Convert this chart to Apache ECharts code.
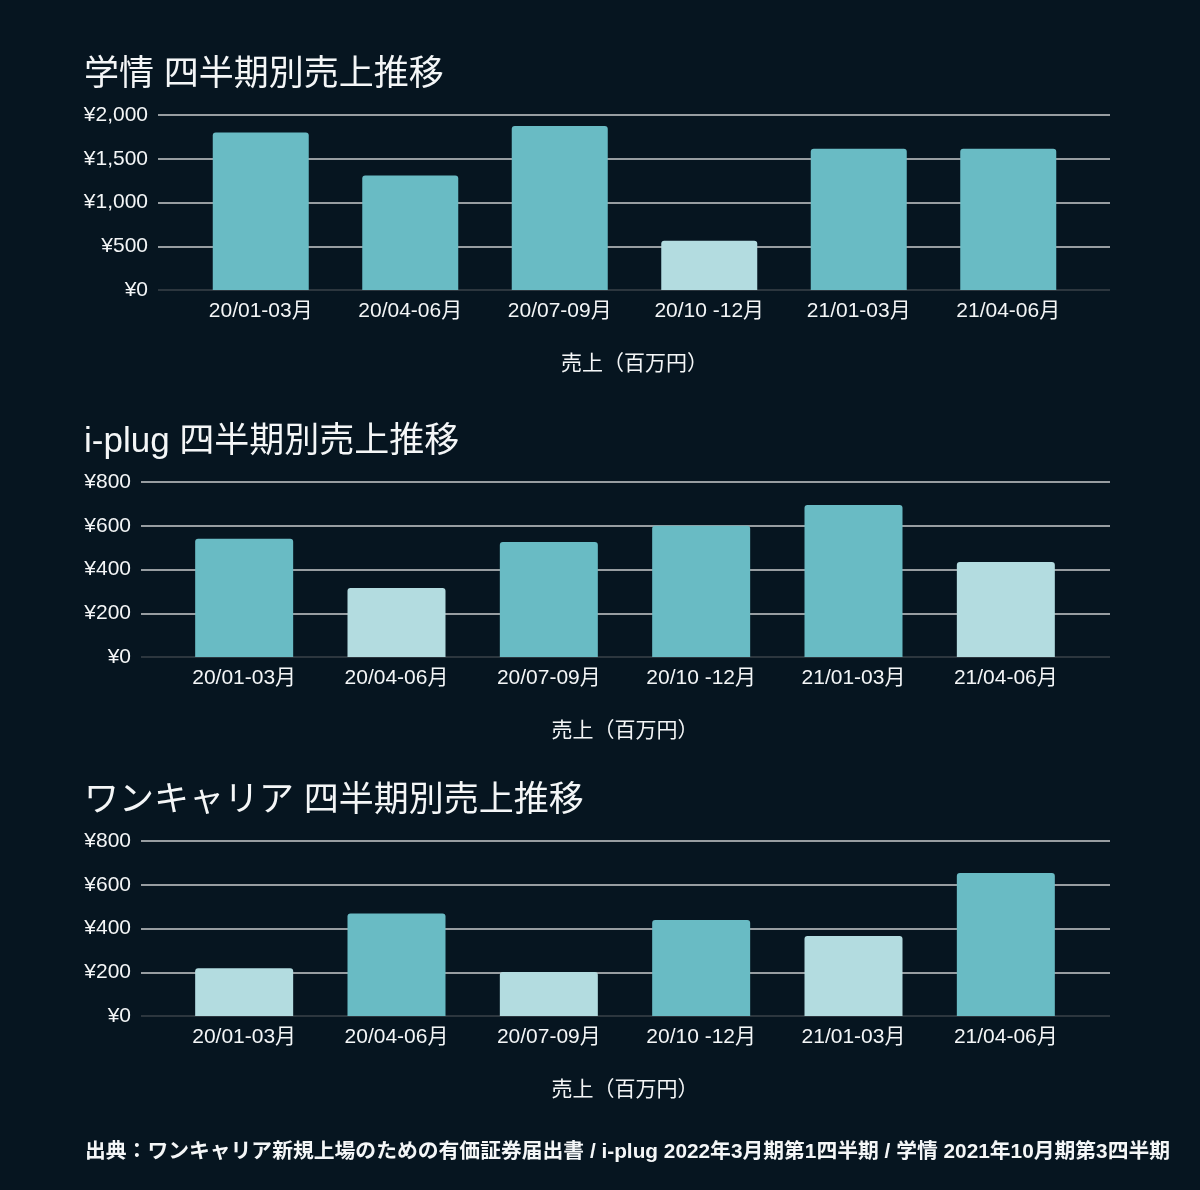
<!DOCTYPE html>
<html>
<head>
<meta charset="utf-8">
<script src="https://cdn.jsdelivr.net/npm/echarts@6/dist/echarts.min.js"></script>
<style>
html,body{margin:0;padding:0;background:#061520;}
#c{width:1200px;height:1190px;}
</style>
</head>
<body>
<div id="c"></div>
<script>
// ---- data ----
const categories1 = ['20/01-03月', '20/04-06月', '20/07-09月', '20/10 -12月', '21/01-03月', '21/04-06月'];
const categories2 = ['20/01-03月', '20/04-06月', '20/07-09月', '20/10 -12月', '21/01-03月', '21/04-06月'];
const gakujoSales = [1800, 1310, 1875, 563, 1615, 1615];
const iplugSales = [541, 315, 526, 600, 695, 434];
const onecareerSales = [218, 469, 201, 439, 366, 654];
const gakujoLight = [3];
const iplugLight = [1, 5];
const onecareerLight = [0, 2, 4];
const titles = ['学情 四半期別売上推移', 'i-plug 四半期別売上推移', 'ワンキャリア 四半期別売上推移'];
const axisName = '売上（百万円）';
const footer = '出典：ワンキャリア新規上場のための有価証券届出書 / i-plug 2022年3月期第1四半期 / 学情 2021年10月期第3四半期';

// ---- styles ----
const FONT = "'Liberation Sans', 'Noto Sans CJK JP', sans-serif";
const TXT = '#f4f6f7';
const DARK = '#69bbc4';
const LIGHT = '#b3dce0';
const GRID = '#c9cbcc';
const BASE = '#3a4248';

const chart = echarts.init(document.getElementById('c'));

const panels = [
  { cats: categories1, vals: gakujoSales, light: gakujoLight, max: 2000, interval: 500,
    top: 115, lineLeft: 158, barLeft: 186, barRight: 1083, barW: 96, titleTop: 53 },
  { cats: categories2, vals: iplugSales, light: iplugLight, max: 800, interval: 200,
    top: 482, lineLeft: 141, barLeft: 168, barRight: 1082, barW: 98, titleTop: 420 },
  { cats: categories2, vals: onecareerSales, light: onecareerLight, max: 800, interval: 200,
    top: 841, lineLeft: 141, barLeft: 168, barRight: 1082, barW: 98, titleTop: 779 }
];

const grid = [], xAxis = [], yAxis = [], series = [], title = [];
panels.forEach((p, i) => {
  const h = 175;
  grid.push({ left: p.lineLeft, width: 1110 - p.lineLeft, top: p.top, height: h });
  grid.push({ left: p.barLeft, width: p.barRight - p.barLeft, top: p.top, height: h });
  const gA = i * 2, gB = i * 2 + 1;
  const nTicks = p.max / p.interval + 1;
  const splitColors = [BASE];
  for (let k = 1; k < nTicks; k++) splitColors.push(GRID);
  xAxis.push({ type: 'category', gridIndex: gA, data: p.cats, show: false });
  xAxis.push({
    type: 'category', gridIndex: gB, data: p.cats,
    axisLine: { show: false }, axisTick: { show: false },
    axisLabel: { color: TXT, fontSize: 21, fontFamily: FONT, margin: 11, interval: 0 },
    name: axisName, nameLocation: 'middle', nameGap: 64,
    nameTextStyle: { color: TXT, fontSize: 21, fontFamily: FONT }
  });
  yAxis.push({
    type: 'value', gridIndex: gA, min: 0, max: p.max, interval: p.interval,
    axisLine: { show: false }, axisTick: { show: false },
    axisLabel: {
      color: TXT, fontSize: 21, fontFamily: FONT, margin: 10,
      formatter: v => '¥' + v.toLocaleString('en-US')
    },
    splitLine: { show: true, lineStyle: { color: splitColors, width: 1.5 } }
  });
  yAxis.push({ type: 'value', gridIndex: gB, min: 0, max: p.max, interval: p.interval, show: false, splitLine: { show: false } });
  series.push({
    type: 'bar', xAxisIndex: gB, yAxisIndex: gB, barWidth: p.barW,
    data: p.vals.map((v, k) => ({
      value: v,
      itemStyle: { color: p.light.includes(k) ? LIGHT : DARK, borderRadius: [3, 3, 0, 0] }
    })),
    z: 3
  });
  title.push({
    text: titles[i], left: 79, top: p.titleTop,
    textStyle: { color: TXT, fontSize: 35, fontWeight: 'normal', fontFamily: FONT }
  });
});
title.push({
  text: footer, left: 80, top: 1137,
  textStyle: { color: TXT, fontSize: 20.8, fontWeight: 'bold', fontFamily: FONT }
});

chart.setOption({
  backgroundColor: '#061520',
  animation: false,
  title, grid, xAxis, yAxis, series
});
</script>
</body>
</html>
